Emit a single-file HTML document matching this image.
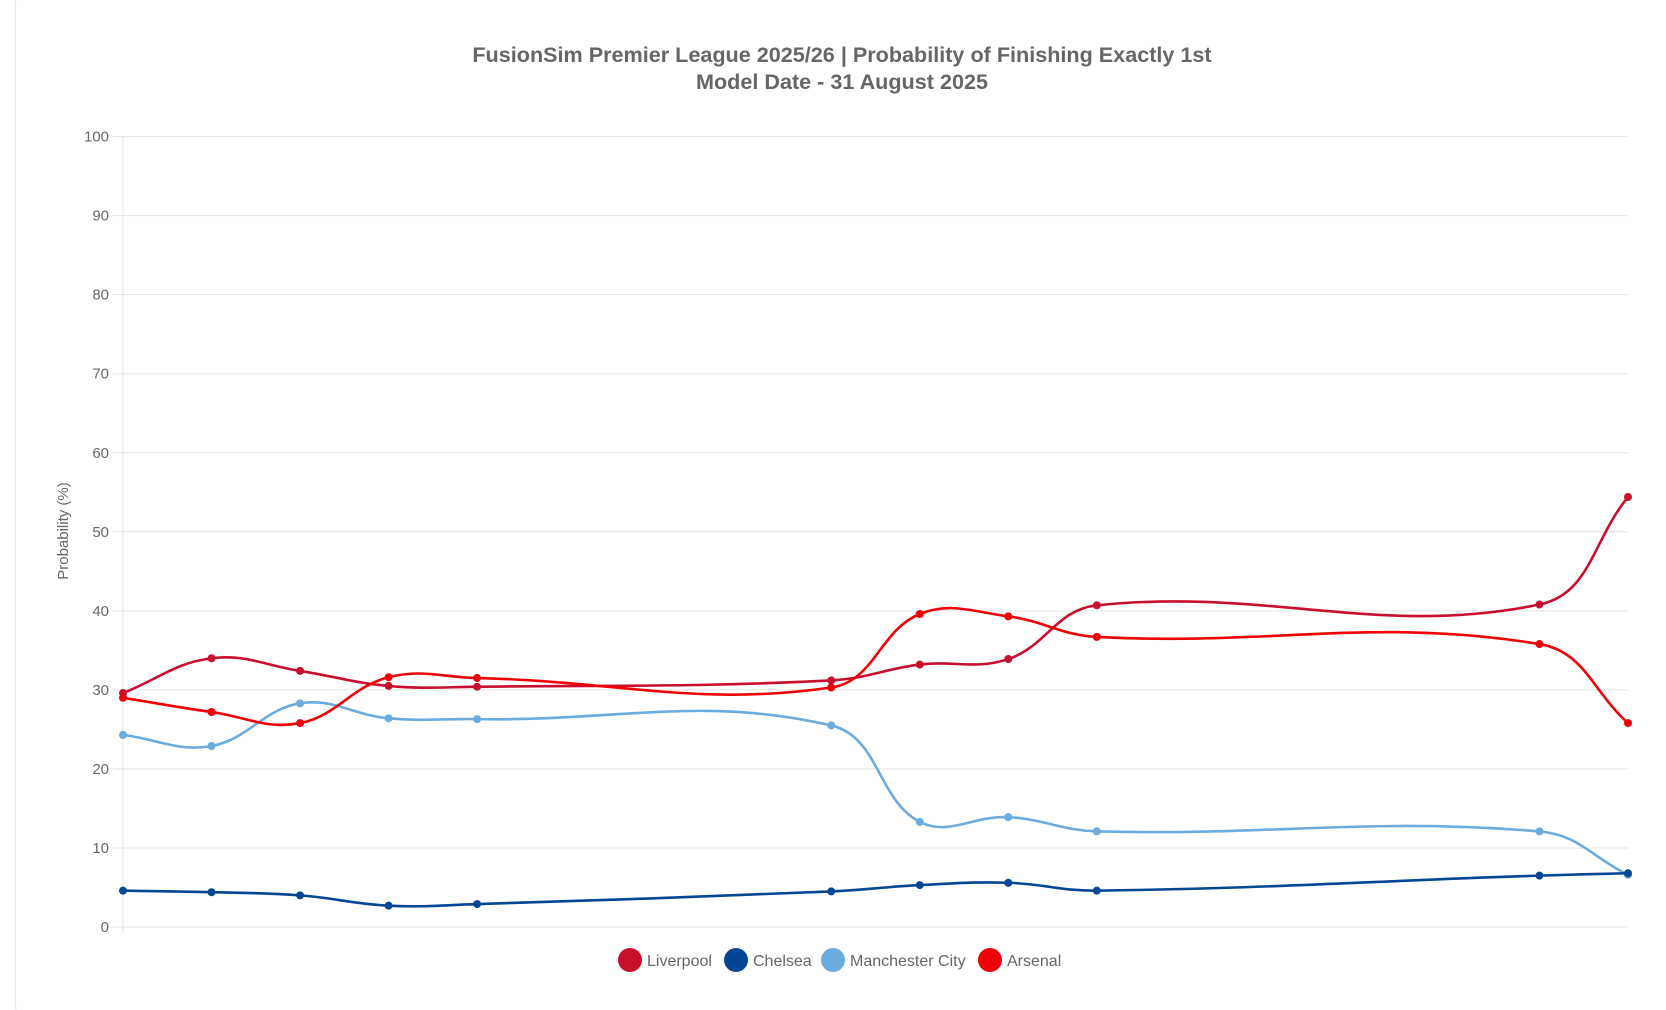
<!DOCTYPE html>
<html><head><meta charset="utf-8"><style>
html,body{margin:0;padding:0;background:#fff;width:1666px;height:1010px;overflow:hidden;}
body{position:relative;font-family:"Liberation Sans",Arial,sans-serif;}
#card{position:absolute;left:15px;top:-10px;width:1660px;height:1030px;border:1px solid #e8e8e8;border-radius:14px;box-sizing:border-box;}
</style></head><body>
<div id="card"></div>
<svg id="chart" width="1666" height="1010" style="position:absolute;left:0;top:0"></svg>
<script>
const xIndex=[0,1,2,3,4,8,9,10,11,16,17];
const liverpool=[29.6,34.0,32.4,30.5,30.4,31.2,33.2,33.9,40.7,40.8,54.4];
const chelsea=[4.6,4.4,4.0,2.7,2.9,4.5,5.3,5.6,4.6,6.5,6.8];
const manCity=[24.3,22.9,28.3,26.4,26.3,25.5,13.3,13.9,12.1,12.1,6.6];
const arsenal=[29.0,27.2,25.8,31.6,31.5,30.3,39.6,39.3,36.7,35.8,25.8];
const yTicks=[0,10,20,30,40,50,60,70,80,90,100];
const seriesNames=["Liverpool","Chelsea","Manchester City","Arsenal"];
const seriesColors=["#C8102E","#034694","#6CABDD","#EF0107"];

const NS="http://www.w3.org/2000/svg";
const svg=document.getElementById('chart');
const L=123,R=1628,T=136.6,B=927;
const xMax=17;
function xs(i){return L+(R-L)*i/xMax;}
function ys(v){return B-(B-T)*v/100;}
function mk(tag,attrs,parent){const e=document.createElementNS(NS,tag);for(const k in attrs)e.setAttribute(k,attrs[k]);(parent||svg).appendChild(e);return e;}

let t1=mk('text',{x:842,y:62,'text-anchor':'middle','font-size':21.6,'font-weight':'bold',fill:'#666'});
t1.textContent="FusionSim Premier League 2025/26 | Probability of Finishing Exactly 1st";


let t2=mk('text',{x:842,y:89,'text-anchor':'middle','font-size':21.6,'font-weight':'bold',fill:'#666'});
t2.textContent="Model Date - 31 August 2025";



yTicks.forEach(v=>{
  const y=ys(v);
  const g=mk('line',{x1:113,x2:R,y1:y,y2:y,stroke:'#e4e4e4','stroke-width':1});
  
  
  const tx=mk('text',{x:109,y:y+5,'text-anchor':'end','font-size':15,fill:'#666'});
  tx.textContent=v;
  
  
});
const ax=mk('line',{x1:L,x2:L,y1:T,y2:B+6,stroke:'#e4e4e4','stroke-width':1});


const yt=mk('text',{x:0,y:0,'text-anchor':'middle','font-size':15,fill:'#666',transform:'translate(68,531) rotate(-90)'});
yt.textContent="Probability (%)";



function pathFor(vals){
  const p=vals.map((v,i)=>({x:xs(xIndex[i]),y:ys(v)}));
  const t=0.4;let d=`M${p[0].x},${p[0].y}`;
  const cps=p.map((c,i)=>{
    const pr=p[i-1]||c,nx=p[i+1]||c;
    const d01=Math.hypot(c.x-pr.x,c.y-pr.y),d12=Math.hypot(nx.x-c.x,nx.y-c.y);
    let s01=d01/(d01+d12),s12=d12/(d01+d12);
    if(isNaN(s01))s01=0;if(isNaN(s12))s12=0;
    const fa=t*s01,fb=t*s12;
    return {px:c.x-fa*(nx.x-pr.x),py:c.y-fa*(nx.y-pr.y),nx:c.x+fb*(nx.x-pr.x),ny:c.y+fb*(nx.y-pr.y)};
  });
  for(let i=1;i<p.length;i++){
    d+=` C${cps[i-1].nx},${cps[i-1].ny} ${cps[i].px},${cps[i].py} ${p[i].x},${p[i].y}`;
  }
  return {d,p};
}
const allSeries=[liverpool,chelsea,manCity,arsenal];
const drawOrder=[2,1,0,3];
drawOrder.forEach(si=>{
  const vals=allSeries[si];const {d,p}=pathFor(vals);
  const g=mk('g',{});
  
  
  const ln=mk('path',{d,fill:'none',stroke:seriesColors[si],'stroke-width':2.6},g);
  
  
  p.forEach((pt,i)=>{
    const c=mk('circle',{cx:pt.x,cy:pt.y,r:4,fill:seriesColors[si]},g);
    
    
  });
});

const legendX=[630,736,833,990];
seriesNames.forEach((n,i)=>{
  const g=mk('g',{});
  
  
  mk('circle',{cx:legendX[i],cy:960,r:12,fill:seriesColors[i]},g);
  const tx=mk('text',{x:legendX[i]+17,y:966,'font-size':16,fill:'#666'},g);
  tx.textContent=n;
});
</script>
</body></html>
